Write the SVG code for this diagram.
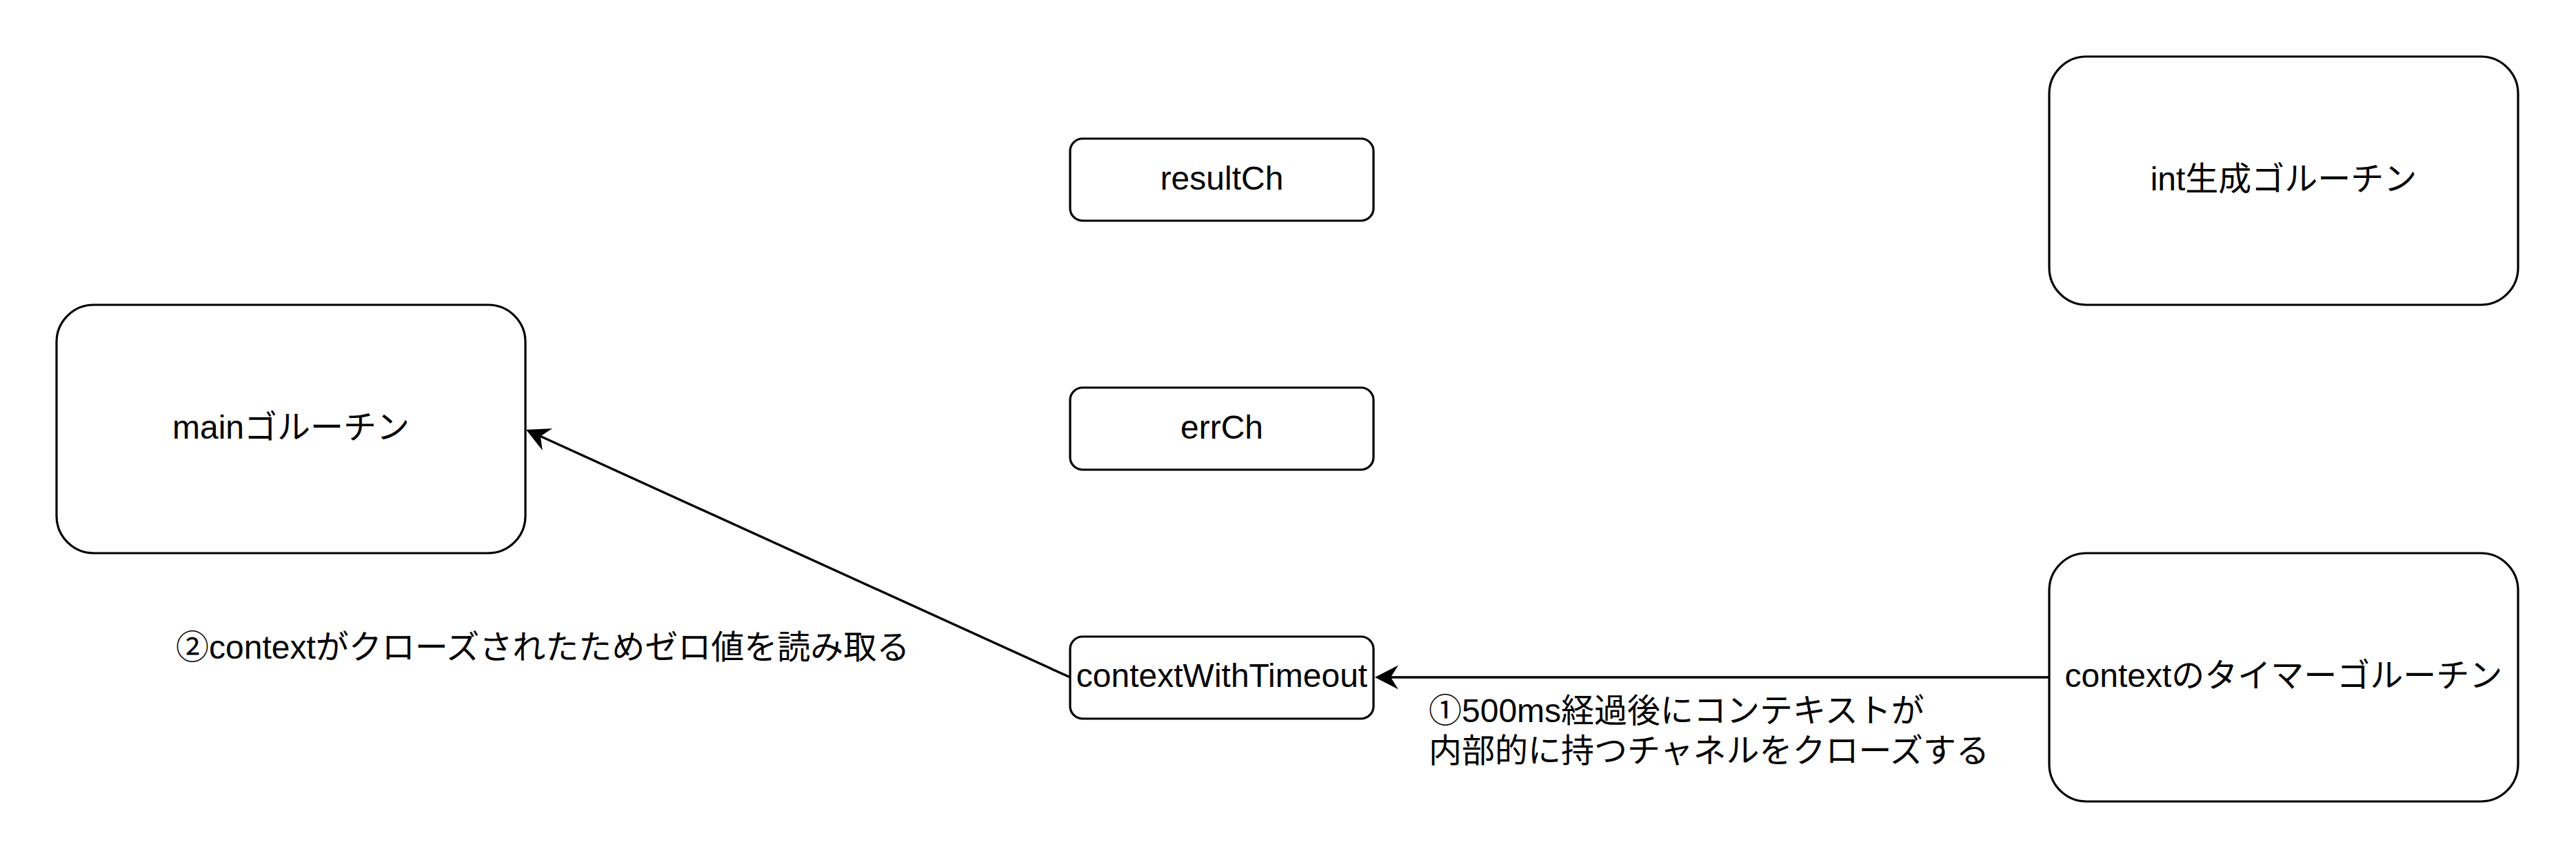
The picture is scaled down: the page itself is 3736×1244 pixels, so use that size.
<svg xmlns="http://www.w3.org/2000/svg" width="3736" height="1244" viewBox="0 0 3736 1244">
  <style>
    .box { fill: #ffffff; stroke: #000000; stroke-width: 3.2; }
    .lbl { font-family: "Liberation Sans", "Noto Sans CJK JP", sans-serif; font-size: 48px; fill: #000000; }
    .mid { text-anchor: middle; }
    .edge { fill: none; stroke: #000000; stroke-width: 3.4; }
  </style>
  <defs>
    <marker id="arrow" markerUnits="userSpaceOnUse" markerWidth="35" markerHeight="35" refX="11" refY="17.5" orient="auto" overflow="visible">
      <path d="M 34 17.5 L 0 0 L 11 17.5 L 0 35 Z" fill="#000000" stroke="none"/>
    </marker>
  </defs>
  <rect width="3736" height="1244" fill="#ffffff"/>

  <g id="connectors">
    <path id="edge-timer-ctx" class="edge" d="M 2972 982 L 2017 982" marker-end="url(#arrow)"/>
    <path id="edge-ctx-main" class="edge" d="M 1552 982 L 783.9 632.5" marker-end="url(#arrow)"/>
    <text id="label-1-line1" class="lbl" x="2072" y="1047">①500ms経過後にコンテキストが</text>
    <text id="label-1-line2" class="lbl" x="2072" y="1105">内部的に持つチャネルをクローズする</text>
    <text id="label-2" class="lbl" x="255" y="955">②contextがクローズされたためゼロ値を読み取る</text>
  </g>

  <g id="node-main">
    <rect class="box" x="82" y="442" width="680" height="360" rx="54" ry="54"/>
    <text class="lbl mid" x="422" y="636">mainゴルーチン</text>
  </g>
  <g id="node-resultCh">
    <rect class="box" x="1552" y="201" width="440" height="119" rx="18" ry="18"/>
    <text class="lbl mid" x="1772" y="275">resultCh</text>
  </g>
  <g id="node-errCh">
    <rect class="box" x="1552" y="562" width="440" height="119" rx="18" ry="18"/>
    <text class="lbl mid" x="1772" y="636">errCh</text>
  </g>
  <g id="node-contextWithTimeout">
    <rect class="box" x="1552" y="923" width="440" height="119" rx="18" ry="18"/>
    <text class="lbl mid" x="1772" y="996">contextWithTimeout</text>
  </g>
  <g id="node-int">
    <rect class="box" x="2972" y="82" width="680" height="360" rx="54" ry="54"/>
    <text class="lbl mid" x="3312" y="276">int生成ゴルーチン</text>
  </g>
  <g id="node-timer">
    <rect class="box" x="2972" y="802" width="680" height="360" rx="54" ry="54"/>
    <text class="lbl mid" x="3312" y="996">contextのタイマーゴルーチン</text>
  </g>
</svg>
